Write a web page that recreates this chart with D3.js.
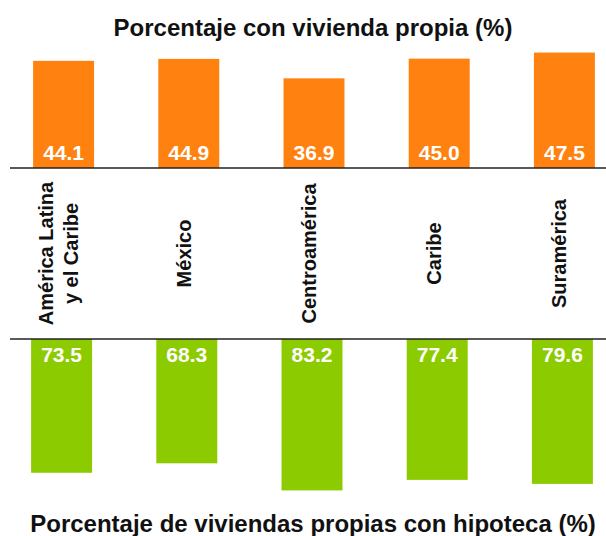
<!DOCTYPE html>
<html>
<head>
<meta charset="utf-8">
<script src="https://cdn.jsdelivr.net/npm/d3@7"></script>
<style>
  body { margin: 0; background: #fff; }
  svg { display: block; font-family: "Liberation Sans", Arial, sans-serif; }
</style>
</head>
<body>
<svg width="606" height="536"></svg>
<script>
var regiones = ['América Latina\ny el Caribe', 'México', 'Centroamérica', 'Caribe', 'Suramérica'];
var viviendaPropia = [44.1, 44.9, 36.9, 45.0, 47.5];
var conHipoteca = [73.5, 68.3, 83.2, 77.4, 79.6];

function main() {
	var svg = d3.select('svg'),
		width = +svg.attr('width');

	var naranja = '#ff8210',
		verde = '#8ccb00';

	var topBase = 168, botBase = 339;

	var x = d3.scaleBand()
		.domain(regiones)
		.range([1, 627])
		.paddingInner(0.513)
		.paddingOuter(0.2565);

	var yTop = d3.scaleLinear().domain([0, 50]).range([topBase, topBase - 121.5]);
	var yBot = d3.scaleLinear().domain([0, 90]).range([botBase, botBase + 163.8]);

	// titulo superior
	svg.append('text')
		.attr('x', width / 2 + 10)
		.attr('y', 36)
		.attr('text-anchor', 'middle')
		.style('font-size', '24px')
		.style('font-weight', 'bold')
		.attr('fill', '#111')
		.text('Porcentaje con vivienda propia (%)');

	// barras naranjas
	var top = svg.append('g');
	top.selectAll('rect')
		.data(viviendaPropia)
		.enter().append('rect')
		.attr('x', function(d, i) { return x(regiones[i]); })
		.attr('y', function(d) { return yTop(d); })
		.attr('width', x.bandwidth())
		.attr('height', function(d) { return topBase - yTop(d); })
		.attr('fill', naranja);

	top.selectAll('text')
		.data(viviendaPropia)
		.enter().append('text')
		.attr('x', function(d, i) { return x(regiones[i]) + x.bandwidth() / 2; })
		.attr('y', topBase - 8)
		.attr('text-anchor', 'middle')
		.attr('fill', '#fff')
		.style('font-size', '21px')
		.style('font-weight', 'bold')
		.text(function(d) { return d3.format('.1f')(d); });

	// barras verdes
	var bot = svg.append('g');
	bot.selectAll('rect')
		.data(conHipoteca)
		.enter().append('rect')
		.attr('x', function(d, i) { return x(regiones[i]) - 2; })
		.attr('y', botBase)
		.attr('width', x.bandwidth())
		.attr('height', function(d) { return yBot(d) - botBase; })
		.attr('fill', verde);

	bot.selectAll('text')
		.data(conHipoteca)
		.enter().append('text')
		.attr('x', function(d, i) { return x(regiones[i]) - 2 + x.bandwidth() / 2; })
		.attr('y', botBase + 23)
		.attr('text-anchor', 'middle')
		.attr('fill', '#fff')
		.style('font-size', '21px')
		.style('font-weight', 'bold')
		.text(function(d) { return d3.format('.1f')(d); });

	// lineas base
	[topBase, botBase].forEach(function(yy) {
		svg.append('line')
			.attr('x1', 10).attr('x2', width)
			.attr('y1', yy).attr('y2', yy)
			.attr('stroke', '#222')
			.attr('stroke-width', 1.5);
	});

	// etiquetas de regiones
	var mid = (topBase + botBase) / 2;
	regiones.forEach(function(r) {
		var lines = r.split('\n');
		var t = svg.append('text')
			.attr('transform', 'translate(' + (x(r) + x.bandwidth() / 2 - 5) + ',' + mid + ') rotate(-90)')
			.attr('text-anchor', 'middle')
			.style('font-size', '20px')
			.style('font-weight', 'bold')
			.attr('fill', '#111');
		lines.forEach(function(l, i) {
			t.append('tspan')
				.attr('x', 0)
				.attr('y', (i - (lines.length - 1) / 2) * 25)
				.attr('dy', '0.35em')
				.text(l);
		});
	});

	// titulo inferior
	svg.append('text')
		.attr('x', width / 2 + 10)
		.attr('y', 532)
		.attr('text-anchor', 'middle')
		.style('font-size', '24px')
		.style('font-weight', 'bold')
		.attr('fill', '#111')
		.text('Porcentaje de viviendas propias con hipoteca (%)');
}
main();
</script>
</body>
</html>
